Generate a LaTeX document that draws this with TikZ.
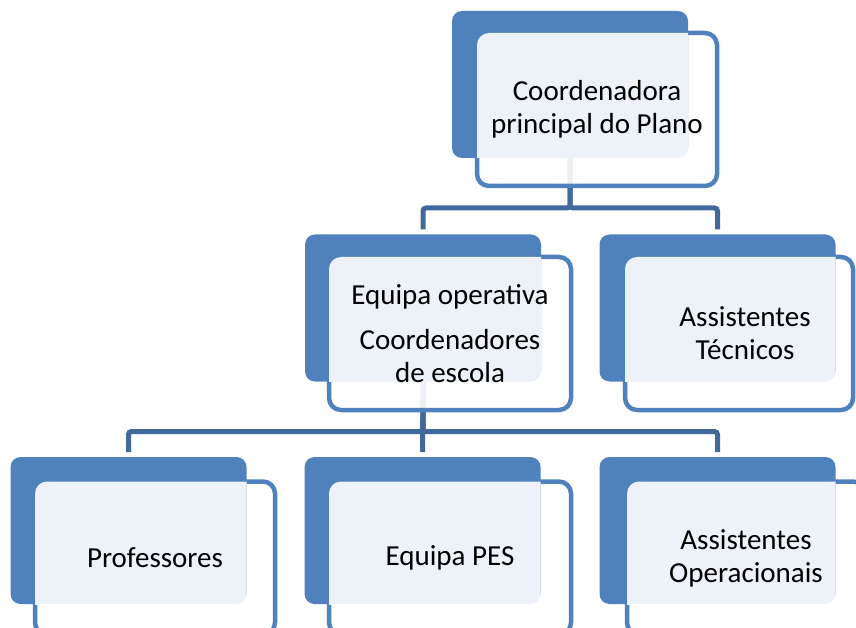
\documentclass[tikz,border=0pt]{standalone}
\usepackage{fontspec}
\setmainfont{Carlito}
\usetikzlibrary{positioning}
\definecolor{boxBlue}{HTML}{4F81BD}
\definecolor{linkBlue}{HTML}{41699C}
\pgfdeclarelayer{links}
\pgfdeclarelayer{frames}
\pgfsetlayers{links,frames,main}
\tikzset{
  backBox/.style={rectangle, rounded corners=10pt, fill=boxBlue, inner sep=0pt, outer sep=0pt,
    minimum width=236pt, minimum height=147pt},
  frontBox/.style={rectangle, rounded corners=12pt, draw=boxBlue, line width=4.5pt, fill=white,
    fill opacity=0.9, inner sep=0pt, outer sep=0pt, minimum height=153pt},
  boxText/.style={align=center, font=\fontsize{29}{33}\selectfont, text=black},
  link/.style={draw=linkBlue, line width=5pt, rounded corners=3pt}
}
% one box of the chart: [text options] name, back centre, front centre, front width, text
\newcommand{\orgBox}[6][]{%
  \node[backBox] (#2Back) at #3 {};
  \begin{pgfonlayer}{frames}
    \node[frontBox, minimum width=#5] (#2Front) at #4 {};
  \end{pgfonlayer}
  \begin{scope}
    \clip (#2Back.south west) rectangle (#2Back.north east);
    \fill[white, opacity=0.9, rounded corners=12pt] (#2Front.south west) rectangle (#2Front.north east);
  \end{scope}
  \node[boxText, #1] (#2Text) at (#2Front.center) {#6};
}

\begin{document}
\begin{tikzpicture}[x=1pt, y=-1pt]
  \useasboundingbox (0,0) rectangle (856,628);
  \orgBox{coord}{(570,84.5)}{(597,109.5)}{240pt}{Coordenadora\\principal do Plano}
  \orgBox{equipa}{(423,308)}{(450,333.5)}{242pt}{Equipa operativa\\[12pt]Coordenadores\\de escola}
  \orgBox[xshift=6pt]{tecnicos}{(717.5,308)}{(739,333.5)}{228pt}{Assistentes\\Técnicos}
  \orgBox{prof}{(128.5,530.5)}{(155,558)}{240pt}{Professores}
  \orgBox{pes}{(422.5,530.5)}{(450,558)}{242pt}{Equipa PES}
  \orgBox{oper}{(717.5,530.5)}{(746,558)}{238pt}{Assistentes\\Operacionais}
  % connectors
  \begin{pgfonlayer}{links}
    \draw[link] (coordBack.south) -- ++(0,50) -| ([yshift=5pt]equipaBack.north);
    \draw[link] (coordBack.south) -- ++(0,50) -| ([yshift=5pt]tecnicosBack.north);
    \draw[link] (equipaBack.south) -- ++(0,50) -| ([yshift=5pt]profBack.north);
    \draw[link] (equipaBack.south) -- ([yshift=5pt]pesBack.north);
    \draw[link] (equipaBack.south) -- ++(0,50) -| ([yshift=5pt]operBack.north);
  \end{pgfonlayer}
\end{tikzpicture}
\end{document}
